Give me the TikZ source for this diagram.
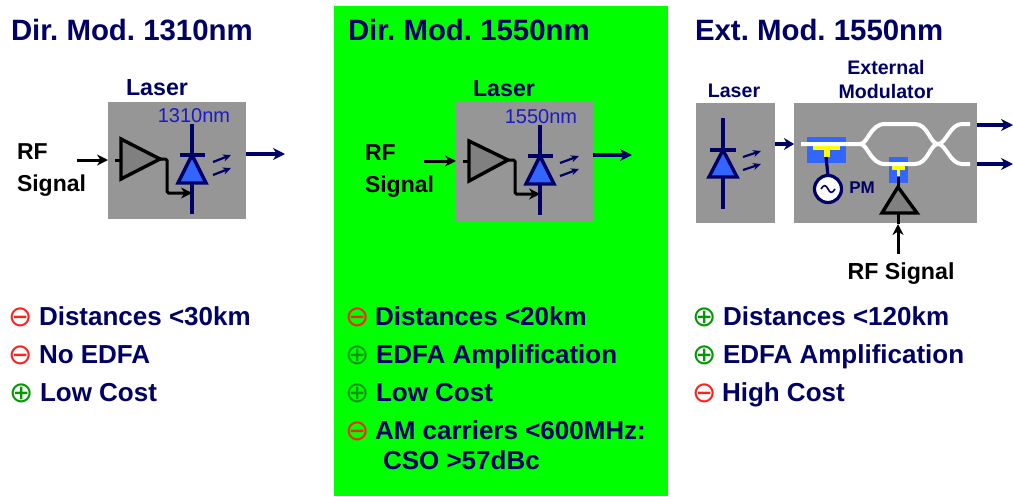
\documentclass[tikz,border=0pt]{standalone}
\usepackage{fontspec}
\setmainfont{Liberation Sans}
\newfontfamily\symfont{DejaVu Sans}
\usetikzlibrary{arrows.meta}
\definecolor{navy}{HTML}{000066}
\definecolor{boxgray}{HTML}{969696}
\definecolor{ampgray}{HTML}{808080}
\definecolor{diodeblue}{HTML}{3366FF}
\definecolor{brightgreen}{HTML}{00FF00}
\definecolor{plusgreen}{HTML}{009900}
\definecolor{minusred}{HTML}{FF2020}
\definecolor{labelblue}{HTML}{1A1AC8}
\definecolor{padyellow}{HTML}{FFFF00}
\tikzset{
  x=1pt,y=-1pt,
  every node/.style={inner sep=0pt,outer sep=0pt},
  title/.style={anchor=base west,font=\frenchspacing\bfseries\fontsize{29.4}{29}\selectfont,text=navy},
  item/.style={anchor=base west,font=\frenchspacing\bfseries\fontsize{26}{26}\selectfont,text=navy},
  symminus/.style={font=\symfont\fontsize{29}{29}\selectfont,text=minusred},
  symplus/.style={font=\symfont\fontsize{29}{29}\selectfont,text=plusgreen},
  lab/.style={anchor=base,font=\bfseries\fontsize{23.2}{23}\selectfont,text=navy},
  smalllab/.style={anchor=base,font=\bfseries\fontsize{19.6}{20}\selectfont,text=navy},
  rflab/.style={anchor=base west,font=\bfseries\fontsize{23}{23}\selectfont,text=black},
  wave/.style={anchor=base,font=\fontsize{20}{20}\selectfont,text=labelblue},
  blackarrow/.style={draw=black,line width=3pt,-{Stealth[length=11pt,width=11pt]}},
  navyarrow/.style={draw=navy,line width=3.2pt,-{Stealth[length=12pt,width=12pt]}},
  emit/.style={draw=navy,line width=2.2pt,-{Stealth[length=8pt,width=7pt]}},
  wire/.style={draw=navy,line width=3.2pt},
  stub/.style={draw=black,line width=3pt},
  amp/.style={draw=black,line width=3.4pt,fill=ampgray,line join=miter},
  diode/.style={draw=navy,line width=3.4pt,fill=diodeblue,line join=miter},
  guide/.style={draw=white,line width=4pt},
}
\begin{document}
\begin{tikzpicture}
\useasboundingbox (0,0) rectangle (1013,496);
\fill[white] (0,0) rectangle (1013,496);
\fill[brightgreen] (334,6) rectangle (668,496);

% titles
\node[title] (t1) at (11,40) {Dir. Mod. 1310nm};
\node[title] (t2) at (348,40) {Dir. Mod. 1550nm};
\node[title] (t3) at (695,40) {Ext. Mod. 1550nm};

% ---------- panel 1
\node[lab] (l1) at (157,95) {Laser};
\fill[boxgray] (108,102) rectangle (246,219);
\node[wave] (w1) at (194,122) {1310nm};
\node[rflab] (rf1a) at (17,159) {RF};
\node[rflab] (rf1b) at (17,191) {Signal};
\coordinate (a1s) at (77,160); \coordinate (a1e) at (108,160);
\draw[blackarrow] (a1s) -- (a1e);
\coordinate (a1i) at (115,160); \coordinate (a1in) at (121,160);
\draw[stub] (a1i) -- (a1in);
\coordinate (a1o) at (160,159);
\draw[amp] (121,139) -- (121,179) -- (a1o) -- cycle;
\coordinate (d1a) at (192,124); \coordinate (d1b) at (192,214);
\draw[wire] (d1a) -- (d1b);
\draw[diode] (192,155) -- (178,183) -- (206,183) -- cycle;
\draw[wire] (180,155) -- (205,155);
\draw[stub,rounded corners=1.5pt,-{Stealth[length=11pt,width=11pt]}] (a1o) -- (167,159) -- (167,193) -- (192,193);
\draw[emit] (213,162) -- (231,155);
\draw[emit] (213,175) -- (231,168);
\coordinate (o1s) at (246,154); \coordinate (o1e) at (285,154);
\draw[navyarrow] (o1s) -- (o1e);

% ---------- panel 2
\node[lab] (l2) at (504,96) {Laser};
\fill[boxgray] (456,102) rectangle (593,221);
\node[wave] (w2) at (541,123) {1550nm};
\node[rflab] (rf2a) at (365,160) {RF};
\node[rflab] (rf2b) at (365,192) {Signal};
\coordinate (a2s) at (424,161); \coordinate (a2e) at (456,161);
\draw[blackarrow] (a2s) -- (a2e);
\coordinate (a2i) at (463,161); \coordinate (a2in) at (469,161);
\draw[stub] (a2i) -- (a2in);
\coordinate (a2o) at (508,160);
\draw[amp] (469,141) -- (469,181) -- (a2o) -- cycle;
\coordinate (d2a) at (540,125); \coordinate (d2b) at (540,215);
\draw[wire] (d2a) -- (d2b);
\draw[diode] (540,156) -- (526,184) -- (554,184) -- cycle;
\draw[wire] (528,156) -- (553,156);
\draw[stub,rounded corners=1.5pt,-{Stealth[length=11pt,width=11pt]}] (a2o) -- (515,160) -- (515,194) -- (540,194);
\draw[emit] (560,163) -- (579,156);
\draw[emit] (560,176) -- (579,169);
\coordinate (o2s) at (593,155); \coordinate (o2e) at (632,155);
\draw[navyarrow] (o2s) -- (o2e);

% ---------- panel 3
\node[smalllab] (l3) at (734,97) {Laser};
\node[smalllab] (em1) at (886,74) {External};
\node[smalllab] (em2) at (886,98) {Modulator};
\fill[boxgray] (696,103) rectangle (775,223);
\fill[boxgray] (794,103) rectangle (977,223);
\coordinate (d3a) at (723,118); \coordinate (d3b) at (723,209);
\draw[wire] (d3a) -- (d3b);
\draw[diode] (723,150) -- (709,177) -- (737,177) -- cycle;
\draw[wire] (710,150) -- (736,150);
\draw[emit] (743,157) -- (761,151);
\draw[emit] (743,170) -- (761,164);
\coordinate (o3s) at (775,144); \coordinate (o3e) at (794,144);
\draw[navyarrow,-{Stealth[length=10pt,width=12pt]}] (o3s) -- (o3e);
% electrodes
\fill[diodeblue] (807,137) rectangle (846,163);
\fill[diodeblue] (889,157) rectangle (908,183);
% waveguides
\draw[guide] (801,144) -- (860,144) .. controls (868,144) and (870,124) .. (885,124) -- (915,124)
  .. controls (928,124) and (930,144) .. (938,144) .. controls (946,144) and (950,124) .. (962,124) -- (970,124);
\draw[guide] (860,144) .. controls (868,144) and (870,164) .. (885,164) -- (915,164)
  .. controls (928,164) and (930,144) .. (938,144) .. controls (946,144) and (950,164) .. (962,164) -- (970,164);
% yellow T pads
\fill[padyellow] (813,146) rectangle (840,150);
\fill[padyellow] (824,150) rectangle (830,157);
\fill[padyellow] (892,166) rectangle (905,170);
\fill[padyellow] (897,170) rectangle (900,176);
% PM source
\coordinate (pmt) at (826,157);
\node[circle,draw=navy,line width=3.2pt,fill=white,minimum size=27pt] (pm) at (828,189) {};
\draw[wire] (pmt) -- (pm.north);
\draw[draw=navy,line width=1.6pt] (821,189) .. controls (824,184) and (826,185) .. (828,189) .. controls (830,193) and (832,194) .. (835,189);
\node[font=\bfseries\fontsize{17}{17}\selectfont,text=navy] (pml) at (862,188) {PM};
% modulator driver
\coordinate (amt) at (898,177); \coordinate (ama) at (898,187);
\draw[stub] (amt) -- (ama);
\draw[amp] (ama) -- (882,213) -- (917,213) -- cycle;
\coordinate (amb) at (898,213); \coordinate (rfe) at (898,224);
\draw[stub] (amb) -- (rfe);
\coordinate (rfs) at (898,254);
\draw[blackarrow] (rfs) -- (rfe);
\node[lab,text=black] (rf3) at (901,279) {RF Signal};
% outputs
\coordinate (o4s) at (977,125); \coordinate (o4e) at (1013,125);
\coordinate (o5s) at (977,164); \coordinate (o5e) at (1013,164);
\draw[navyarrow] (o4s) -- (o4e);
\draw[navyarrow] (o5s) -- (o5e);

% ---------- lists
\node[symminus] (s11) at (21,317) {⊖};
\node[item] (i11) at (39,325) {Distances <30km};
\node[symminus] (s12) at (21,355) {⊖};
\node[item] (i12) at (39,363) {No EDFA};
\node[symplus] (s13) at (22,393) {⊕};
\node[item] (i13) at (40,401) {Low Cost};

\node[symminus] (s21) at (358,317) {⊖};
\node[item] (i21) at (375,325) {Distances <20km};
\node[symplus] (s22) at (358,355) {⊕};
\node[item] (i22) at (376,363) {EDFA Amplification};
\node[symplus] (s23) at (358,393) {⊕};
\node[item] (i23) at (376,401) {Low Cost};
\node[symminus] (s24) at (358,431) {⊖};
\node[item] (i24) at (375,439) {AM carriers <600MHz:};
\node[item] (i25) at (383,469) {CSO >57dBc};

\node[symplus] (s31) at (705,317) {⊕};
\node[item] (i31) at (723,325) {Distances <120km};
\node[symplus] (s32) at (705,355) {⊕};
\node[item] (i32) at (723,363) {EDFA Amplification};
\node[symminus] (s33) at (705,393) {⊖};
\node[item] (i33) at (722,401) {High Cost};
\end{tikzpicture}
\end{document}
